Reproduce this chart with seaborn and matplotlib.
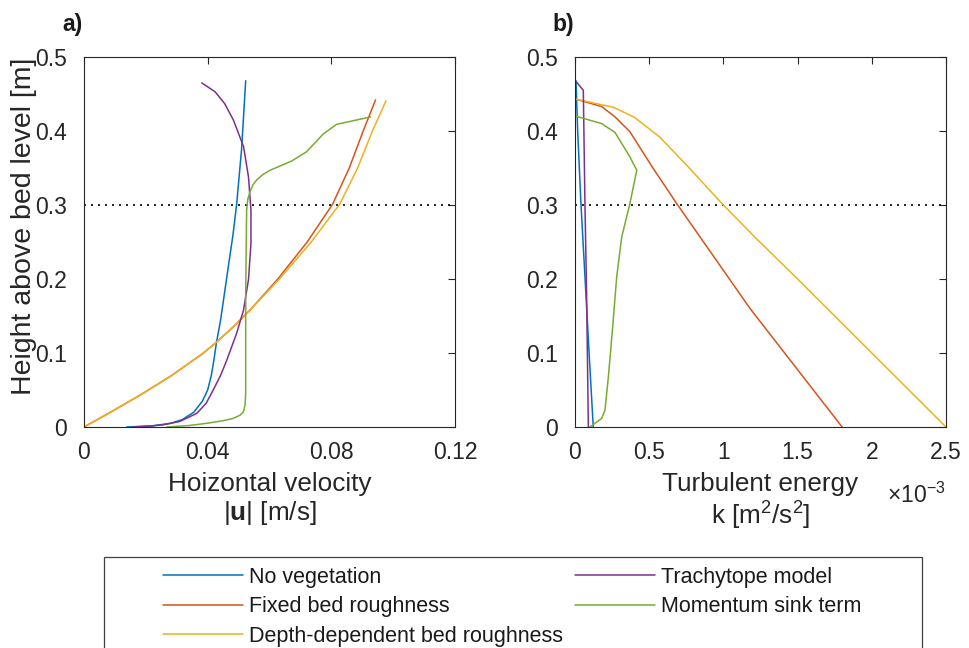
import numpy as np
import pandas as pd
import matplotlib.pyplot as plt
import seaborn as sns
from matplotlib.lines import Line2D
from matplotlib.patches import Rectangle
from matplotlib.ticker import FuncFormatter

# ------------------------------------------------------------
# data
# ------------------------------------------------------------
models = ["No vegetation", "Fixed bed roughness", "Depth-dependent bed roughness",
          "Trachytope model", "Momentum sink term"]
colors = ["#0072BD", "#D95319", "#EDB120", "#7E2F8E", "#77AC30"]

# a) horizontal velocity |u| [m/s] against height above bed [m]
z_a_noveg = [0, 0.0015, 0.005, 0.01, 0.02, 0.035, 0.05, 0.07, 0.09, 0.113, 0.145,
             0.2, 0.26, 0.302, 0.377, 0.468]
u_noveg = [0.0138, 0.0220, 0.0280, 0.0318, 0.0355, 0.0383, 0.0400, 0.0412, 0.0420, 0.0428,
           0.0442, 0.0461, 0.0482, 0.0494, 0.0510, 0.0523]

z_a_fixed = [0, 0.02, 0.0455, 0.07, 0.0996, 0.113, 0.135, 0.158, 0.2, 0.25, 0.301,
             0.35, 0.40, 0.442]
u_fixed = [0, 0.0086, 0.0191, 0.0285, 0.0385, 0.0424, 0.0482, 0.0537, 0.0627, 0.0722, 0.0804,
           0.0858, 0.0903, 0.0943]

z_a_depth = [0, 0.02, 0.0455, 0.07, 0.0996, 0.113, 0.135, 0.158, 0.2, 0.25, 0.301,
             0.35, 0.40, 0.441]
u_depth = [0, 0.0086, 0.0191, 0.0285, 0.0385, 0.0424, 0.0482, 0.0537, 0.0632, 0.0735, 0.0827,
           0.0885, 0.0933, 0.0977]

z_a_trachy = [0, 0.0015, 0.003, 0.0075, 0.0185, 0.032, 0.05, 0.07, 0.0905, 0.127, 0.158,
              0.199, 0.248, 0.293, 0.338, 0.379, 0.415, 0.437, 0.453, 0.465]
u_trachy = [0.016, 0.022, 0.0257, 0.031, 0.0365, 0.0395, 0.0418, 0.0442, 0.0462, 0.0494, 0.0516,
            0.0532, 0.0540, 0.0540, 0.0532, 0.0516, 0.0483, 0.0455, 0.0424, 0.0381]

z_a_sink = [0, 0.002, 0.005, 0.0085, 0.0117, 0.016, 0.0207, 0.03, 0.0455, 0.181, 0.293,
            0.308, 0.318, 0.327, 0.334, 0.341, 0.347, 0.3527, 0.3595, 0.372, 0.396, 0.409, 0.419]
u_sink = [0.0268, 0.0340, 0.0397, 0.0450, 0.0483, 0.0505, 0.0516, 0.0521, 0.0523, 0.0523, 0.0526,
          0.0530, 0.0537, 0.0546, 0.0559, 0.0578, 0.0602, 0.0634, 0.0672, 0.0720, 0.0774,
          0.0817, 0.0927]

# b) turbulent energy k [1e-3 m2/s2] against height above bed [m]
z_b_noveg = [0, 0.1, 0.2, 0.302, 0.4, 0.468]
k_noveg = [0.123, 0.095, 0.068, 0.040, 0.018, 0.0067]

z_b_fixed = [0, 0.08, 0.16, 0.302, 0.35, 0.399, 0.419, 0.433, 0.443]
k_fixed = [1.80, 1.49, 1.18, 0.685, 0.525, 0.37, 0.27, 0.18, 0.0067]

z_b_depth = [0, 0.1, 0.2, 0.257, 0.302, 0.35, 0.392, 0.4185, 0.432, 0.443]
k_depth = [2.5, 2.0, 1.50, 1.21, 0.99, 0.77, 0.57, 0.40, 0.26, 0.0067]

z_b_trachy = [0, 0.181, 0.302, 0.455, 0.467]
k_trachy = [0.090, 0.078, 0.067, 0.056, 0.0067]

z_b_sink = [0, 0.0117, 0.023, 0.068, 0.1355, 0.203, 0.257, 0.302, 0.347, 0.365, 0.398,
            0.41, 0.42]
k_sink = [0.10, 0.18, 0.202, 0.225, 0.254, 0.281, 0.315, 0.37, 0.416, 0.37, 0.27, 0.18, 0.0067]


def to_long(pairs, xname):
    frames = []
    for name, (x, z) in zip(models, pairs):
        frames.append(pd.DataFrame({xname: x, "z": z, "model": name}))
    return pd.concat(frames, ignore_index=True)


df_a = to_long([(u_noveg, z_a_noveg), (u_fixed, z_a_fixed), (u_depth, z_a_depth),
                (u_trachy, z_a_trachy), (u_sink, z_a_sink)], "u")
df_b = to_long([(k_noveg, z_b_noveg), (k_fixed, z_b_fixed), (k_depth, z_b_depth),
                (k_trachy, z_b_trachy), (k_sink, z_b_sink)], "k")

# ------------------------------------------------------------
# style (MATLAB look)
# ------------------------------------------------------------
sns.set_style("white")
plt.rcParams["font.family"] = ["Liberation Sans", "DejaVu Sans"]
plt.rcParams["mathtext.fontset"] = "custom"
plt.rcParams["mathtext.rm"] = "Liberation Sans"
plt.rcParams["mathtext.it"] = "Liberation Sans:italic"
plt.rcParams["mathtext.bf"] = "Liberation Sans:bold"

palette = dict(zip(models, colors))
axc = "0.15"

fig = plt.figure(figsize=(9.7, 6.48), dpi=100)
ax1 = fig.add_axes([84 / 970, 1 - 427 / 648, 371 / 970, 370 / 648])
ax2 = fig.add_axes([575 / 970, 1 - 427 / 648, 371 / 970, 370 / 648])

sns.lineplot(data=df_a, x="u", y="z", hue="model", hue_order=models, palette=palette,
             sort=False, estimator=None, legend=False, lw=1.1, ax=ax1)
sns.lineplot(data=df_b, x="k", y="z", hue="model", hue_order=models, palette=palette,
             sort=False, estimator=None, legend=False, lw=1.1, ax=ax2)

fmt = FuncFormatter(lambda v, p: f"{v:g}")
for ax in (ax1, ax2):
    ax.axhline(0.3, color="k", ls=(0, (1.2, 3.0)), lw=1.2, zorder=1)
    ax.set_ylim(0, 0.5)
    ax.set_yticks(np.arange(0, 0.51, 0.1))
    ax.xaxis.set_major_formatter(fmt)
    ax.yaxis.set_major_formatter(fmt)
    ax.tick_params(direction="in", length=5, width=0.8, top=True, right=True,
                   labelsize=16.5, colors=axc, labelcolor="0.15")
    ax.tick_params(axis="x", pad=10)
    ax.tick_params(axis="y", pad=12)
    for s in ax.spines.values():
        s.set_color(axc)
        s.set_linewidth(0.8)
    ax.set_ylabel("")

ax1.set_xlim(0, 0.12)
ax1.set_xticks([0, 0.04, 0.08, 0.12])
ax2.set_xlim(0, 2.5)
ax2.set_xticks(np.arange(0, 2.51, 0.5))

ax1.set_ylabel("Height above bed level [m]", fontsize=20.5, color="0.15")
ax1.yaxis.set_label_coords(-0.127, 0.543)

ax1.set_xlabel("Hoizontal velocity\n|$\\mathbf{u}$| [m/s]", fontsize=18.8, color="0.15",
               linespacing=1.15)
ax1.xaxis.set_label_coords(0.5, -0.122)
ax2.set_xlabel("Turbulent energy\nk [m$^2$/s$^2$]", fontsize=18.8, color="0.15",
               linespacing=1.15)
ax2.xaxis.set_label_coords(0.5, -0.122)
ax2.text(1.0, -0.205, r"$\times$10$^{-3}$", transform=ax2.transAxes, ha="right",
         va="baseline", fontsize=16.5, color="0.15")

fig.text(83 / 970, 1 - 25 / 648, "a)", ha="right", va="center", fontsize=16.5,
         fontweight="bold", color="0.1")
fig.text(574 / 970, 1 - 25 / 648, "b)", ha="right", va="center", fontsize=16.5,
         fontweight="bold", color="0.1")

# legend: frame drawn as its own box, entries laid out in two columns
handles = [Line2D([], [], color=c, lw=1.1) for c in colors]
fig.legend(handles, models, ncol=2, frameon=False, loc="upper left",
           bbox_to_anchor=(163 / 970, 1 - 567 / 648), borderpad=0, borderaxespad=0,
           fontsize=15.5, handlelength=3.72, handletextpad=0.28, columnspacing=0.56,
           labelspacing=0.39, labelcolor="0.1")
fig.patches.append(Rectangle((104 / 970, -0.02), (922 - 104) / 970, 0.02 + 1 - 557 / 648,
                             transform=fig.transFigure, fill=False, edgecolor="0.25",
                             lw=0.9, figure=fig))

fig.savefig("out.png", dpi=100)
